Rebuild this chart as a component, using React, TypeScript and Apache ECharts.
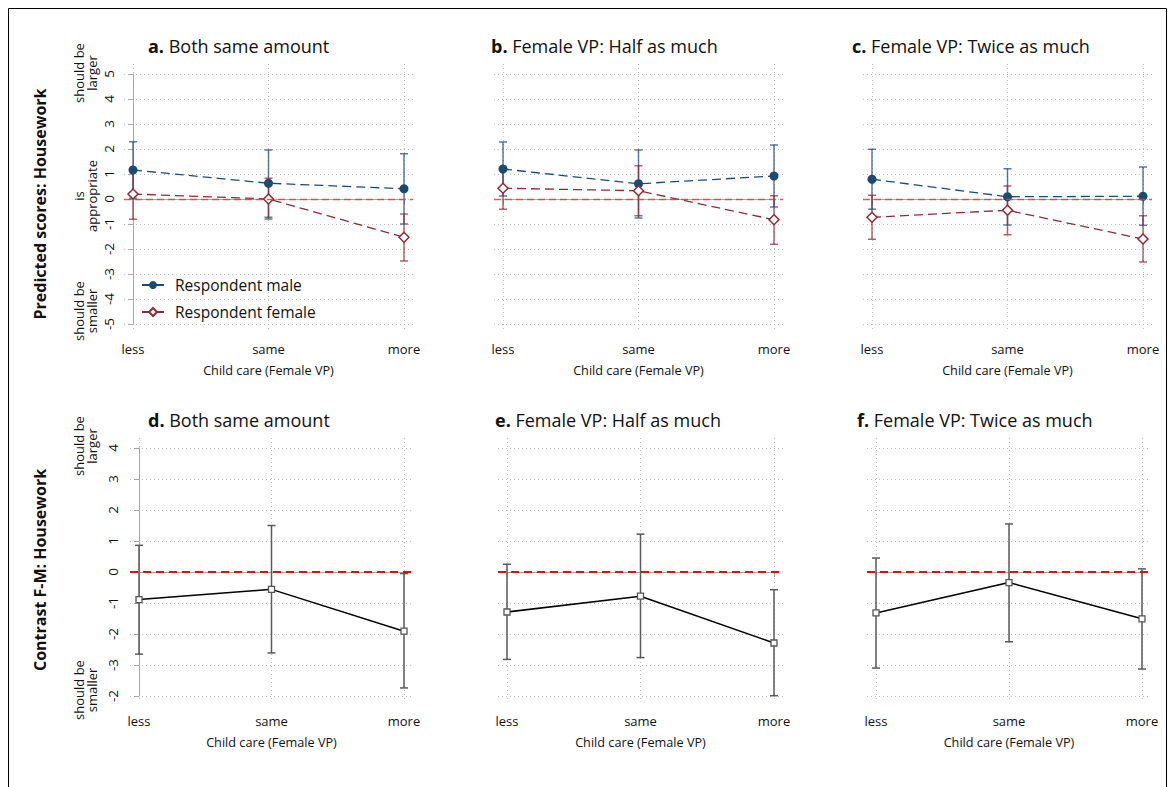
import React, { useEffect, useRef } from "react";
import * as echarts from "echarts";

// ---------- data ----------
const categories = ["less", "same", "more"];
const topTitlesBold = ["a.", "b.", "c."];
const bottomTitlesBold = ["d.", "e.", "f."];
const topTitles = ["Both same amount", "Female VP: Half as much", "Female VP: Twice as much"];
const bottomTitles = ["Both same amount", "Female VP: Half as much", "Female VP: Twice as much"];
const xAxisTitle = "Child care (Female VP)";
const topRowTitle = "Predicted scores: Housework";
const bottomRowTitle = "Contrast F-M: Housework";
const legendNames = ["Respondent male", "Respondent female"];

// panels a, b, c  (values at less / same / more)
const maleEst = [[1.16, 0.63, 0.41], [1.2, 0.61, 0.92], [0.79, 0.09, 0.11]];
const maleLo = [[0.03, -0.8, -1.0], [0.12, -0.76, -0.32], [-0.41, -1.04, -1.05]];
const maleHi = [[2.29, 1.96, 1.81], [2.28, 1.96, 2.16], [1.99, 1.21, 1.28]];
const femaleEst = [[0.2, 0.0, -1.53], [0.43, 0.33, -0.83], [-0.73, -0.45, -1.6]];
const femaleLo = [[-0.81, -0.73, -2.48], [-0.41, -0.67, -1.81], [-1.61, -1.43, -2.52]];
const femaleHi = [[1.21, 0.83, -0.6], [1.27, 1.33, 0.13], [0.15, 0.52, -0.67]];

// panels d, e, f
const contrastEst = [[-0.89, -0.56, -1.91], [-1.29, -0.78, -2.29], [-1.32, -0.34, -1.51]];
const contrastLo = [[-2.65, -2.61, -3.74], [-2.82, -2.76, -3.99], [-3.1, -2.25, -3.13]];
const contrastHi = [[0.86, 1.5, -0.05], [0.25, 1.22, -0.57], [0.45, 1.55, 0.1]];

const topTickValues = [-5, -4, -3, -2, -1, 0, 1, 2, 3, 4, 5];
const bottomTickValues = [-4, -3, -2, -1, 0, 1, 2, 3, 4];
const bottomTickLabels = ["-2", "-3", "-2", "-1", "0", "1", "2", "3", "4"];

// ---------- layout ----------
const FONT = "'Open Sans'";
const topX = [[133, 404], [503, 774], [872, 1143]];
const botX = [[139, 404], [507, 774], [876, 1142]];
const topY = [74, 324];
const botY = [448, 696];

const MALE = "#1b4a75";
const FEMALE = "#8e2a35";
const GRID = "#bdbdbd";
const AXIS = "#a8a8a8";

function errorBarSeries(name: string, xi: number, yi: number, lo: number[], hi: number[], color: string, opacity: number, width: number) {
  return {
    type: "custom",
    name,
    xAxisIndex: xi,
    yAxisIndex: yi,
    silent: true,
    z: 2,
    encode: { x: 0, y: [1, 2] },
    data: categories.map((_, i) => [i, lo[i], hi[i]]),
    renderItem: (params: any, api: any) => {
      const x = api.value(0);
      const pLo = api.coord([x, api.value(1)]);
      const pHi = api.coord([x, api.value(2)]);
      const cw = 4;
      const style = { stroke: color, lineWidth: width, opacity };
      return {
        type: "group",
        children: [
          { type: "line", shape: { x1: pLo[0], y1: pLo[1], x2: pHi[0], y2: pHi[1] }, style },
          { type: "line", shape: { x1: pLo[0] - cw, y1: pLo[1], x2: pLo[0] + cw, y2: pLo[1] }, style },
          { type: "line", shape: { x1: pHi[0] - cw, y1: pHi[1], x2: pHi[0] + cw, y2: pHi[1] }, style },
        ],
      };
    },
  };
}

function buildOption() {
  const grid: any[] = [];
  const xAxis: any[] = [];
  const yAxis: any[] = [];
  const series: any[] = [];
  const title: any[] = [];

  const panels: any[] = [];
  for (let r = 0; r < 2; r++) {
    for (let c = 0; c < 3; c++) {
      panels.push({ r, c });
    }
  }

  const titleStyle = {
    fontSize: 18, fontWeight: "normal", color: "#111", fontFamily: FONT,
    rich: { b: { fontSize: 18, fontWeight: "bold", fontFamily: FONT, color: "#111" } },
  };

  panels.forEach(({ r, c }) => {
    const xs = r === 0 ? topX[c] : botX[c];
    const ys = r === 0 ? topY : botY;
    const vmin = r === 0 ? -5 : -4;
    const vmax = r === 0 ? 5 : 4;
    const ticks = r === 0 ? topTickValues : bottomTickValues;
    const axOff = r === 0 ? 9 : 11;

    // background grid (plot region, gridlines, reference line)
    const bIdx = grid.length;
    const mx = 9, mt = 10, mb = 5;
    const ppx = (xs[1] - xs[0]) / 2;
    const ppy = (ys[1] - ys[0]) / (vmax - vmin);
    grid.push({ left: xs[0] - mx, top: ys[0] - mt, width: xs[1] - xs[0] + 2 * mx, height: ys[1] - ys[0] + mt + mb, outerBoundsMode: "none" });
    xAxis.push({
      type: "value", gridIndex: bIdx, min: -mx / ppx, max: 2 + mx / ppx,
      axisLine: { show: false }, axisTick: { show: false, customValues: [0, 1, 2] },
      axisLabel: { show: false, customValues: [0, 1, 2] },
      splitLine: { show: true, lineStyle: { color: GRID, type: [1, 3], width: 1 } },
    });
    yAxis.push({
      type: "value", gridIndex: bIdx, min: vmin - mb / ppy, max: vmax + mt / ppy,
      axisLine: { show: false }, axisTick: { show: false, customValues: ticks },
      axisLabel: { show: false, customValues: ticks },
      splitLine: { show: true, lineStyle: { color: GRID, type: [1, 3], width: 1 } },
    });
    series.push({
      type: "line", xAxisIndex: bIdx, yAxisIndex: bIdx, data: [], silent: true,
      markLine: {
        silent: true, symbol: ["none", "none"], label: { show: false },
        lineStyle: r === 0
          ? { color: "#e63b3b", type: [7, 4], width: 1.4, opacity: 0.85 }
          : { color: "#ff0000", type: [8, 5], width: 2 },
        data: [{ yAxis: 0 }],
      },
    });

    // data grid
    const aIdx = grid.length;
    grid.push({ left: xs[0], top: ys[0], width: xs[1] - xs[0], height: ys[1] - ys[0], outerBoundsMode: "none" });
    xAxis.push({
      type: "value", gridIndex: aIdx, min: 0, max: 2, interval: 1, offset: axOff,
      axisLine: { show: true, lineStyle: { color: AXIS, width: 1 } },
      axisTick: { show: true, length: 5, lineStyle: { color: AXIS } },
      axisLabel: { formatter: (v: number) => categories[v] ?? "", fontSize: 13, color: "#111", fontFamily: FONT, margin: r === 0 ? 9 : 7 },
      splitLine: { show: false },
      name: xAxisTitle, nameLocation: "middle", nameGap: r === 0 ? 30 : 28,
      nameTextStyle: { fontSize: 12.7, color: "#111", fontFamily: FONT },
    });
    const showY = c === 0;
    yAxis.push({
      type: "value", gridIndex: aIdx, min: vmin, max: vmax, interval: 1, offset: r === 0 ? 9 : 11,
      axisLine: { show: showY, lineStyle: { color: AXIS, width: 1 } },
      axisTick: { show: showY, length: 5, lineStyle: { color: AXIS } },
      axisLabel: {
        show: showY, rotate: 90, fontSize: 13.5, color: "#111", fontFamily: FONT, margin: 8,
        formatter: (v: number) => (r === 0 ? String(v) : bottomTickLabels[bottomTickValues.indexOf(v)]),
      },
      splitLine: { show: false },
    });

    if (r === 0) {
      series.push(errorBarSeries("male CI", aIdx, aIdx, maleLo[c], maleHi[c], MALE, 0.72, 1.5));
      series.push(errorBarSeries("female CI", aIdx, aIdx, femaleLo[c], femaleHi[c], FEMALE, 0.72, 1.5));
      series.push({
        type: "line", name: legendNames[0], xAxisIndex: aIdx, yAxisIndex: aIdx, z: 3,
        data: categories.map((_, i) => [i, maleEst[c][i]]),
        symbol: "circle", symbolSize: 9,
        itemStyle: { color: MALE },
        lineStyle: { color: MALE, type: [9, 5], width: 1.3 },
      });
      series.push({
        type: "line", name: legendNames[1], xAxisIndex: aIdx, yAxisIndex: aIdx, z: 4,
        data: categories.map((_, i) => [i, femaleEst[c][i]]),
        symbol: "diamond", symbolSize: 10,
        itemStyle: { color: "#ffffff", borderColor: FEMALE, borderWidth: 1.5 },
        lineStyle: { color: FEMALE, type: [9, 5], width: 1.3 },
      });
      title.push({
        text: `{b|${topTitlesBold[c]}} ${topTitles[c]}`,
        left: [148, 491, 852][c], top: 37, padding: 0,
        textStyle: titleStyle,
      });
    } else {
      series.push(errorBarSeries("contrast CI", aIdx, aIdx, contrastLo[c], contrastHi[c], "#5a5a5a", 1, 1.5));
      series.push({
        type: "line", name: "contrast", xAxisIndex: aIdx, yAxisIndex: aIdx, z: 3,
        data: categories.map((_, i) => [i, contrastEst[c][i]]),
        symbol: "rect", symbolSize: 6,
        itemStyle: { color: "#ffffff", borderColor: "#555", borderWidth: 1.3 },
        lineStyle: { color: "#000", width: 1.5 },
      });
      title.push({
        text: `{b|${bottomTitlesBold[c]}} ${bottomTitles[c]}`,
        left: [148, 495, 857][c], top: 411, padding: 0,
        textStyle: titleStyle,
      });
    }
  });

  const sideText = (text: string, x: number, y: number, bold: boolean, size: number) => ({
    type: "text", x, y, rotation: Math.PI / 2, silent: true,
    style: { text, font: `${bold ? "bold " : ""}${size}px ${FONT}`, fill: "#111", align: "center", verticalAlign: "middle", lineHeight: 13 },
  });

  return {
    animation: false,
    backgroundColor: "#ffffff",
    title,
    legend: {
      data: legendNames,
      orient: "vertical", left: 136, top: 272, itemWidth: 22, itemHeight: 10, itemGap: 11,
      textStyle: { fontSize: 15.5, color: "#111", fontFamily: FONT, padding: [0, 0, 0, 6] },
      selectedMode: false,
    },
    grid, xAxis, yAxis, series,
    graphic: [
      { type: "rect", silent: true, shape: { x: 8.5, y: 8.5, width: 1158, height: 800 }, style: { fill: "none", stroke: "#000", lineWidth: 1 } },
      sideText(topRowTitle, 40, 204, true, 16),
      sideText(bottomRowTitle, 40, 570, true, 16),
      sideText("should be\nlarger", 85, 73, false, 13),
      sideText("is\nappropriate", 85, 196, false, 13),
      sideText("should be\nsmaller", 85, 311, false, 13),
      sideText("should be\nlarger", 85, 446, false, 13),
      sideText("should be\nsmaller", 85, 690, false, 13),
    ],
  };
}

export default function App() {
  const ref = useRef<HTMLDivElement>(null);
  useEffect(() => {
    if (!ref.current) return;
    const chart = echarts.init(ref.current, undefined, { renderer: "svg" });
    chart.setOption(buildOption() as any);
    return () => chart.dispose();
  }, []);
  return <div ref={ref} style={{ position: "absolute", left: 0, top: 0, width: 1175, height: 787 }} />;
}
